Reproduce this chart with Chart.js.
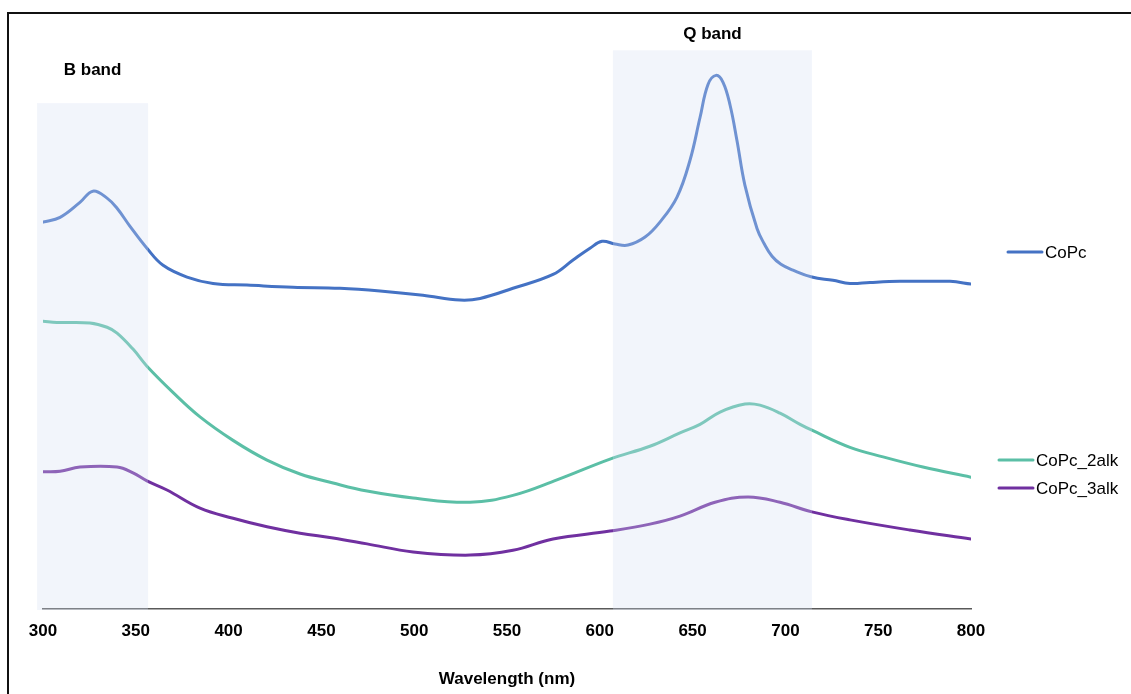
<!DOCTYPE html>
<html>
<head>
<meta charset="utf-8">
<title>CoPc absorption spectra</title>
<script src="https://cdn.jsdelivr.net/npm/chart.js@4.4.1/dist/chart.umd.min.js"></script>
<style>
  html, body { margin: 0; padding: 0; background: #fff; }
  #spectra { display: block; }
</style>
</head>
<body>
<canvas id="spectra" width="1131" height="694"></canvas>
<script>
// Spectra (wavelength in nm, absorbance in arbitrary units)
const copcNm = [300, 309.2, 319.9, 326.9, 334.5, 339.9, 346.9, 356.0, 364.7, 377.6, 391.6, 409.9, 434.7, 460.0, 481.6, 504.7, 524.7, 535.5, 553.2, 574.8, 585.6, 594.7, 601.2, 608.2, 615.2, 624.4, 632.4, 641.6, 648.6, 654.0, 658.3, 662.6, 666.4, 670.2, 673.9, 678.2, 684.7, 688.5, 692.8, 697.6, 704.1, 714.3, 725.6, 734.8, 745.6, 761.7, 777.9, 788.7, 800];
const copcAbs = [0.725, 0.734, 0.762, 0.783, 0.770, 0.751, 0.717, 0.676, 0.644, 0.622, 0.610, 0.607, 0.603, 0.601, 0.596, 0.588, 0.579, 0.582, 0.601, 0.627, 0.654, 0.676, 0.689, 0.684, 0.682, 0.697, 0.725, 0.772, 0.841, 0.921, 0.983, 1.000, 0.987, 0.944, 0.878, 0.794, 0.713, 0.685, 0.661, 0.646, 0.635, 0.622, 0.616, 0.610, 0.612, 0.614, 0.614, 0.614, 0.609];

const alk2Nm = [300, 307.5, 325.3, 334.5, 339.9, 348.5, 356.0, 370.0, 384.6, 402.4, 420.7, 438.5, 456.3, 474.6, 499.4, 530.1, 553.2, 576.9, 605.5, 627.0, 643.2, 654.0, 664.8, 678.2, 686.3, 697.1, 707.9, 714.3, 734.8, 752.6, 774.1, 800];
const alk2Abs = [0.539, 0.537, 0.536, 0.528, 0.517, 0.487, 0.455, 0.406, 0.360, 0.316, 0.279, 0.253, 0.236, 0.221, 0.208, 0.200, 0.213, 0.242, 0.281, 0.305, 0.330, 0.346, 0.369, 0.384, 0.382, 0.367, 0.346, 0.335, 0.303, 0.285, 0.266, 0.247];

const alk3Nm = [300, 309.2, 319.9, 339.9, 348.5, 356.0, 366.8, 384.6, 402.4, 420.7, 438.5, 456.3, 474.6, 499.4, 530.1, 553.2, 574.8, 605.5, 627.0, 643.2, 662.1, 679.9, 697.1, 714.3, 734.8, 767.1, 800];
const alk3Abs = [0.257, 0.258, 0.266, 0.266, 0.255, 0.240, 0.223, 0.189, 0.170, 0.154, 0.142, 0.133, 0.122, 0.107, 0.101, 0.110, 0.131, 0.146, 0.159, 0.174, 0.200, 0.210, 0.200, 0.182, 0.167, 0.148, 0.131];

const seriesNames = ['CoPc', 'CoPc_2alk', 'CoPc_3alk'];
const seriesColors = ['#4472C4', '#5BBFA6', '#7030A0'];

// Highlighted absorption regions
const bandNames = ['B band', 'Q band'];
const bandStart = [296.8, 607.1];
const bandEnd = [356.6, 714.3];
const bandTop = [0.948, 1.047];

const xTicks = [300, 350, 400, 450, 500, 550, 600, 650, 700, 750, 800];

const FONT = '"Liberation Sans", Arial, Helvetica, sans-serif';
Chart.defaults.font.family = FONT;
Chart.defaults.color = '#000';

function toPoints(xs, ys) {
    return xs.map((x, i) => ({ x: x, y: ys[i] }));
}

// White page with the outer frame (top and left edges visible)
const framePlugin = {
    id: 'frame',
    beforeDraw(chart) {
        const ctx = chart.ctx;
        ctx.save();
        ctx.fillStyle = '#fff';
        ctx.fillRect(0, 0, chart.width, chart.height);
        ctx.strokeStyle = '#111';
        ctx.lineWidth = 2;
        ctx.beginPath();
        ctx.moveTo(chart.width, 13);
        ctx.lineTo(8, 13);
        ctx.lineTo(8, chart.height);
        ctx.stroke();
        ctx.restore();
    }
};

// Translucent band boxes laid over the curves, with their captions
const bandPlugin = {
    id: 'bands',
    afterDatasetsDraw(chart, args, opts) {
        const ctx = chart.ctx;
        const x = chart.scales.x;
        const y = chart.scales.y;
        const bottom = chart.chartArea.bottom + 1;
        ctx.save();
        bandNames.forEach((name, i) => {
            const left = x.getPixelForValue(bandStart[i]);
            const right = x.getPixelForValue(bandEnd[i]);
            const top = y.getPixelForValue(bandTop[i]);
            ctx.fillStyle = 'rgba(212, 222, 242, 0.3)';
            ctx.fillRect(left, top, right - left, bottom - top);
            ctx.fillStyle = '#000';
            ctx.font = 'bold 17px ' + FONT;
            ctx.textAlign = 'center';
            ctx.textBaseline = 'middle';
            ctx.fillText(name, (left + right) / 2, top - opts.labelGap[i]);
        });
        ctx.restore();
    }
};

// Legend entries placed beside the curve ends
const sideLegendPlugin = {
    id: 'sideLegend',
    afterDraw(chart, args, opts) {
        const ctx = chart.ctx;
        ctx.save();
        ctx.font = '17px ' + FONT;
        ctx.textBaseline = 'middle';
        ctx.textAlign = 'left';
        ctx.lineWidth = 3;
        ctx.lineCap = 'round';
        chart.data.datasets.forEach((ds, i) => {
            const e = opts.entries[i];
            ctx.strokeStyle = ds.borderColor;
            ctx.beginPath();
            ctx.moveTo(e.x, e.y);
            ctx.lineTo(e.x + 34, e.y);
            ctx.stroke();
            ctx.fillStyle = '#000';
            ctx.fillText(ds.label, e.x + 37, e.y + 1);
        });
        ctx.restore();
    }
};

const datasets = [
    toPoints(copcNm, copcAbs),
    toPoints(alk2Nm, alk2Abs),
    toPoints(alk3Nm, alk3Abs)
].map((pts, i) => ({
    label: seriesNames[i],
    data: pts,
    borderColor: seriesColors[i],
    backgroundColor: seriesColors[i],
    borderWidth: 3,
    pointRadius: 0,
    tension: 0.4,
    borderCapStyle: 'round',
    borderJoinStyle: 'round',
    fill: false
}));

new Chart(document.getElementById('spectra'), {
    type: 'line',
    data: { datasets },
    plugins: [framePlugin, bandPlugin, sideLegendPlugin],
    options: {
        responsive: false,
        animation: false,
        layout: { padding: { left: 43, right: 160, top: 22, bottom: 0 } },
        scales: {
            x: {
                type: 'linear',
                min: 300,
                max: 800,
                afterBuildTicks: scale => { scale.ticks = xTicks.map(v => ({ value: v })); },
                afterFit: scale => { scale.height = 85; },
                grid: { display: false, drawTicks: false },
                border: { display: true, color: '#595959', width: 1.5 },
                ticks: {
                    font: { size: 17, weight: 'bold' },
                    color: '#000',
                    padding: 12,
                    maxRotation: 0,
                    autoSkip: false
                },
                title: {
                    display: true,
                    text: 'Wavelength (nm)',
                    font: { size: 17, weight: 'bold' },
                    color: '#000',
                    padding: { top: 0, bottom: 4 }
                }
            },
            y: {
                display: false,
                min: 0,
                max: 1.1
            }
        },
        plugins: {
            legend: { display: false },
            tooltip: { enabled: false },
            bands: { labelGap: [33, 16] },
            sideLegend: {
                entries: [
                    { x: 1008, y: 252 },
                    { x: 999, y: 460 },
                    { x: 999, y: 488 }
                ]
            }
        }
    }
});
</script>
</body>
</html>
